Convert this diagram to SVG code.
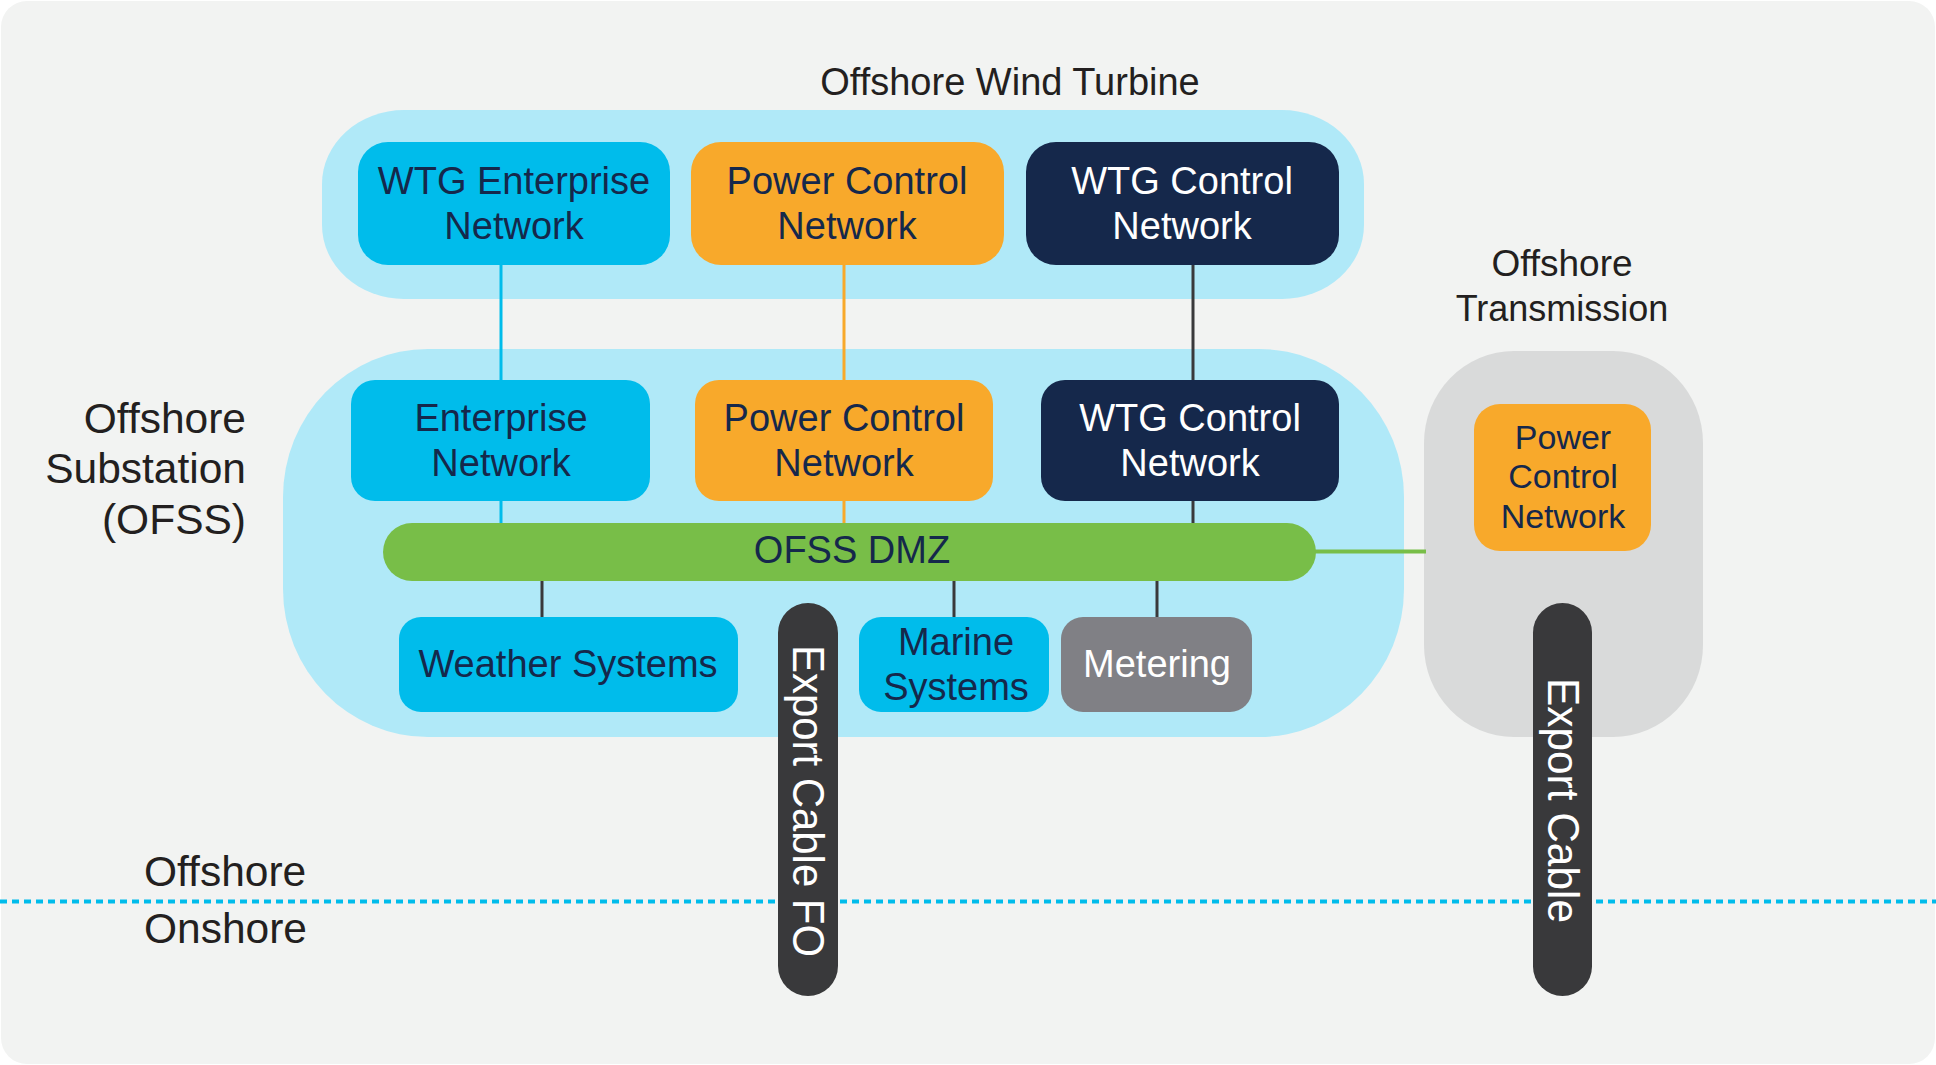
<svg xmlns="http://www.w3.org/2000/svg" width="1936" height="1065" viewBox="0 0 1936 1065">
<defs>
<style>
text{font-family:"Liberation Sans",Arial,sans-serif;}
.lbl{fill:#231F20;}
.dk{fill:#15284B;}
.wt{fill:#FFFFFF;}
.box{font-size:38px;text-anchor:middle;}
.blue{fill:#00BCEB;}
.orange{fill:#F8A92B;}
.navy{fill:#15284B;}
.gray{fill:#808085;}
.cable{fill:#39393B;}
.ln{stroke-width:3;fill:none;}
</style>
</defs>
<rect x="1" y="1" width="1934" height="1063" rx="26" fill="#F2F3F2"/>

<g id="containers">
<rect id="wind-turbine-area" x="322" y="110" width="1042" height="189" rx="82" ry="74" fill="#B0E9F8"/>
<rect id="ofss-area" x="283" y="349" width="1121" height="388" rx="145" ry="148" fill="#B0E9F8"/>
<rect id="transmission-area" x="1424" y="351" width="279" height="386" rx="90" ry="92" fill="#D9DADA"/>
</g>

<g id="connectors">
<line class="ln" x1="501" y1="263" x2="501" y2="382" stroke="#00BCEB"/>
<line class="ln" x1="501" y1="499" x2="501" y2="525" stroke="#00BCEB"/>
<line class="ln" x1="844" y1="263" x2="844" y2="382" stroke="#F8A92B"/>
<line class="ln" x1="844" y1="499" x2="844" y2="525" stroke="#F8A92B"/>
<line class="ln" x1="1193" y1="262" x2="1193" y2="382" stroke="#39393B"/>
<line class="ln" x1="1193" y1="499" x2="1193" y2="525" stroke="#39393B"/>
<line class="ln" x1="542" y1="579" x2="542" y2="619" stroke="#39393B"/>
<line class="ln" x1="954" y1="579" x2="954" y2="619" stroke="#39393B"/>
<line class="ln" x1="1157" y1="579" x2="1157" y2="619" stroke="#39393B"/>
<line x1="1300" y1="551.5" x2="1426" y2="551.5" stroke="#78BE48" stroke-width="4"/>
</g>

<g id="wtg-enterprise-top">
<rect class="blue" x="358" y="142" width="312" height="123" rx="30"/>
<text class="box dk" x="514" y="194">WTG Enterprise</text>
<text class="box dk" x="514" y="239">Network</text>
</g>
<g id="power-control-top">
<rect class="orange" x="691" y="142" width="313" height="123" rx="30"/>
<text class="box dk" x="847" y="194">Power Control</text>
<text class="box dk" x="847" y="239">Network</text>
</g>
<g id="wtg-control-top">
<rect class="navy" x="1026" y="142" width="313" height="123" rx="30"/>
<text class="box wt" x="1182" y="194">WTG Control</text>
<text class="box wt" x="1182" y="239">Network</text>
</g>

<g id="enterprise-ofss">
<rect class="blue" x="351" y="380" width="299" height="121" rx="24"/>
<text class="box dk" x="501" y="431">Enterprise</text>
<text class="box dk" x="501" y="476">Network</text>
</g>
<g id="power-control-ofss">
<rect class="orange" x="695" y="380" width="298" height="121" rx="24"/>
<text class="box dk" x="844" y="431">Power Control</text>
<text class="box dk" x="844" y="476">Network</text>
</g>
<g id="wtg-control-ofss">
<rect class="navy" x="1041" y="380" width="298" height="121" rx="24"/>
<text class="box wt" x="1190" y="431">WTG Control</text>
<text class="box wt" x="1190" y="476">Network</text>
</g>

<g id="ofss-dmz">
<rect x="383" y="523" width="933" height="58" rx="29" fill="#78BE48"/>
<text class="box dk" x="852" y="563">OFSS DMZ</text>
</g>

<g id="weather-systems">
<rect class="blue" x="399" y="617" width="339" height="95" rx="22"/>
<text class="box dk" x="568" y="677">Weather Systems</text>
</g>
<g id="marine-systems">
<rect class="blue" x="859" y="617" width="190" height="95" rx="22"/>
<text class="box dk" x="956" y="655">Marine</text>
<text class="box dk" x="956" y="700">Systems</text>
</g>
<g id="metering">
<rect class="gray" x="1061" y="617" width="191" height="95" rx="22"/>
<text class="box wt" x="1157" y="677">Metering</text>
</g>

<g id="power-control-transmission">
<rect class="orange" x="1474" y="404" width="177" height="147" rx="26"/>
<text class="dk" x="1563" y="449" font-size="34" text-anchor="middle">Power</text>
<text class="dk" x="1563" y="488" font-size="34" text-anchor="middle">Control</text>
<text class="dk" x="1563" y="528" font-size="34" text-anchor="middle">Network</text>
</g>

<g id="shore-line">
<line x1="0" y1="901.5" x2="1936" y2="901.5" stroke="#00BCEB" stroke-width="4" stroke-dasharray="7 5"/>
</g>

<g id="export-cable-fo">
<rect class="cable" x="778" y="603" width="60" height="393" rx="30"/>
<text class="wt" transform="translate(793,801) rotate(90)" font-size="44" text-anchor="middle" textLength="312" lengthAdjust="spacingAndGlyphs">Export Cable FO</text>
</g>
<g id="export-cable">
<rect class="cable" x="1533" y="603" width="59" height="393" rx="29.5"/>
<text class="wt" transform="translate(1548,800.5) rotate(90)" font-size="44" text-anchor="middle" textLength="245" lengthAdjust="spacingAndGlyphs">Export Cable</text>
</g>

<g id="labels">
<text class="lbl" x="1010" y="95" font-size="38" text-anchor="middle">Offshore Wind Turbine</text>
<text class="lbl" x="1562" y="276" font-size="37" text-anchor="middle">Offshore</text>
<text class="lbl" x="1562" y="321" font-size="36" text-anchor="middle">Transmission</text>
<text class="lbl" x="246" y="433" font-size="42.5" text-anchor="end">Offshore</text>
<text class="lbl" x="246" y="483" font-size="42.5" text-anchor="end">Substation</text>
<text class="lbl" x="246" y="534" font-size="42.5" text-anchor="end">(OFSS)</text>
<text class="lbl" x="144" y="886" font-size="42.5">Offshore</text>
<text class="lbl" x="144" y="943" font-size="42.5">Onshore</text>
</g>
</svg>
